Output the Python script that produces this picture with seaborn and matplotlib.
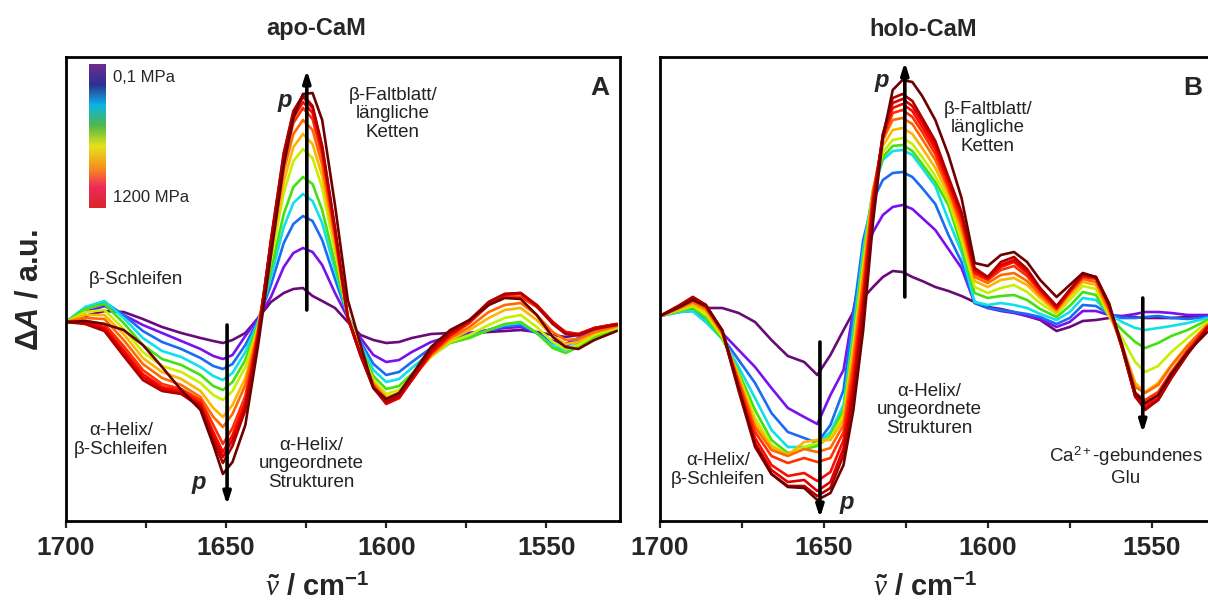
import numpy as np
import pandas as pd
import matplotlib
matplotlib.use("Agg")
import matplotlib.pyplot as plt
import seaborn as sns
from matplotlib.colors import LinearSegmentedColormap

# pressure steps (MPa) and line colours, low -> high pressure
pressures = ["0.1", "100", "200", "300", "400", "500", "600",
             "700", "800", "900", "1000", "1100", "1200"]
line_colors = ["#6a0a7a", "#7a10f0", "#1a6cf5", "#10e0e8", "#44e010", "#c8ee00",
               "#ffb400", "#ff6a00", "#ff3000", "#ff0a00", "#e00000", "#b00000", "#6e0000"]

# apo-CaM difference spectra (a.u.)
wn_apo = [1700, 1694, 1688, 1682, 1676, 1670, 1664, 1658, 1654, 1651, 1648, 1644, 1640,
          1636, 1632, 1629, 1626, 1623, 1620, 1616, 1612, 1608, 1604, 1600, 1596, 1592,
          1586, 1580, 1574, 1568, 1563, 1558, 1553, 1548, 1544, 1540, 1535, 1528]
apo = [
    [0, 6, 11, 10, 3, -5, -11, -16, -19, -21, -18, -11, 4, 20, 29, 33, 34, 26, 21, 14, 0, -13, -18, -21, -20, -16, -12, -11, -11, -10, -9, -8, -10, -13, -15, -13, -8, -4],
    [0, 10, 16, 7, -3, -11, -19, -27, -34, -37, -33, -14, 4, 25, 55, 69, 74, 70, 57, 29, 4, -16, -33, -40, -38, -30, -20, -14, -11, -8, -6, -5, -11, -19, -22, -16, -9, -5],
    [0, 14, 20, 7, -9, -20, -27, -36, -44, -47, -42, -23, 2, 37, 79, 98, 106, 101, 82, 43, 6, -20, -42, -53, -50, -40, -26, -16, -13, -8, -4, -3, -11, -21, -24, -18, -10, -5],
    [0, 15, 21, 4, -16, -29, -35, -45, -54, -58, -51, -30, 0, 45, 95, 119, 128, 121, 99, 52, 6, -23, -48, -60, -57, -46, -30, -19, -15, -8, -3, -1, -11, -24, -28, -21, -12, -6],
    [0, 13, 18, -1, -23, -37, -43, -53, -64, -68, -60, -38, -2, 52, 108, 135, 145, 138, 112, 59, 6, -26, -54, -67, -64, -52, -34, -21, -16, -8, -2, 0, -11, -26, -31, -25, -15, -8],
    [0, 10, 12, -7, -30, -44, -50, -61, -73, -78, -69, -45, -4, 62, 129, 161, 173, 164, 134, 71, 6, -28, -58, -72, -68, -55, -35, -20, -13, -3, 4, 7, -5, -20, -27, -23, -13, -6],
    [0, 7, 7, -12, -36, -50, -57, -69, -86, -95, -83, -56, -6, 68, 140, 175, 188, 178, 146, 77, 6, -30, -60, -75, -71, -56, -34, -18, -8, 4, 12, 14, 2, -14, -22, -20, -11, -5],
    [0, 4, 3, -18, -42, -56, -63, -75, -95, -105, -92, -63, -8, 73, 151, 188, 202, 192, 157, 83, 5, -31, -62, -77, -73, -57, -33, -16, -5, 10, 17, 19, 7, -10, -18, -17, -10, -4],
    [0, 1, -2, -24, -48, -62, -67, -78, -103, -122, -106, -74, -10, 77, 160, 199, 214, 203, 166, 88, 4, -32, -64, -79, -75, -58, -32, -14, -1, 17, 25, 25, 15, -1, -10, -12, -6, -2],
    [0, 0, -5, -28, -52, -65, -69, -81, -110, -130, -113, -80, -12, 80, 164, 204, 220, 209, 171, 91, 4, -33, -65, -81, -76, -58, -31, -13, 0, 19, 27, 28, 17, 0, -10, -12, -6, -2],
    [0, -1, -7, -31, -55, -67, -71, -83, -114, -135, -118, -84, -14, 81, 168, 209, 225, 214, 175, 93, 4, -34, -66, -82, -76, -58, -30, -12, 1, 20, 28, 29, 17, 0, -11, -13, -6, -2],
    [0, -2, -9, -34, -58, -69, -72, -85, -119, -141, -124, -88, -16, 82, 169, 211, 227, 216, 176, 94, 5, -33, -66, -80, -74, -56, -28, -10, 2, 20, 28, 29, 16, -2, -12, -13, -7, -3],
    [0, 1, -2, -8, -23, -45, -68, -88, -123, -152, -140, -103, -23, 67, 157, 204, 228, 229, 202, 117, 22, -23, -66, -77, -71, -53, -25, -8, 2, 17, 24, 23, 7, -15, -25, -27, -18, -9],
]

# holo-CaM difference spectra (a.u.)
wn_holo = [1700, 1694, 1690, 1686, 1681, 1676, 1671, 1666, 1661, 1656, 1652, 1648, 1644,
           1641, 1638, 1635, 1632, 1629, 1626, 1623, 1620, 1616, 1612, 1608, 1604, 1600,
           1596, 1592, 1588, 1584, 1579, 1575, 1571, 1567, 1563, 1559, 1555, 1552, 1548,
           1544, 1539, 1533, 1528]
holo = [
    [0, 6, 9, 8, 8, 3, -6, -24, -40, -46, -59, -39, -14, 4, 18, 29, 39, 45, 44, 39, 35, 29, 25, 20, 14, 9, 7, 4, 0, -4, -15, -11, -5, -4, -2, -1, -1, -2, -2, -2, -1, 0, 0],
    [0, 5, 6, -2, -17, -34, -51, -72, -92, -101, -108, -79, -54, 6, 54, 84, 101, 109, 111, 107, 98, 86, 67, 48, 13, 8, 5, 3, 0, -3, -11, -6, 5, 5, 1, 0, 2, 4, 4, 3, 1, 1, 1],
    [0, 4, 5, -6, -21, -44, -67, -97, -116, -122, -127, -109, -74, 1, 76, 116, 136, 143, 144, 139, 128, 112, 81, 54, 13, 8, 6, 4, 2, -1, -8, -2, 11, 10, 2, -2, -2, -1, 0, -2, -3, -1, 0],
    [0, 4, 5, -6, -23, -51, -82, -114, -131, -131, -128, -116, -89, -14, 66, 126, 156, 165, 166, 161, 148, 130, 96, 64, 14, 11, 13, 11, 8, 2, -4, 4, 18, 16, 2, -6, -12, -14, -12, -10, -7, -2, 0],
    [0, 5, 8, -2, -23, -56, -94, -124, -137, -133, -130, -120, -94, -22, 58, 126, 159, 170, 171, 165, 152, 134, 111, 70, 23, 18, 20, 21, 16, 7, -1, 10, 24, 21, 0, -14, -26, -32, -27, -20, -14, -4, -1],
    [0, 6, 10, 2, -21, -59, -102, -129, -139, -131, -127, -122, -99, -29, 51, 126, 164, 176, 178, 172, 159, 140, 116, 76, 29, 23, 28, 31, 24, 13, 2, 16, 30, 27, 0, -22, -46, -56, -50, -36, -22, -6, -2],
    [0, 7, 12, 5, -18, -61, -107, -131, -139, -126, -124, -124, -104, -36, 44, 126, 170, 186, 188, 182, 168, 148, 121, 83, 35, 29, 36, 38, 31, 18, 4, 20, 34, 31, 3, -29, -67, -76, -67, -49, -29, -9, -3],
    [0, 8, 14, 7, -17, -64, -111, -134, -140, -133, -136, -132, -109, -44, 36, 124, 176, 196, 198, 192, 177, 156, 126, 89, 39, 33, 41, 43, 35, 21, 6, 23, 37, 34, 6, -31, -71, -77, -69, -50, -30, -9, -3],
    [0, 9, 16, 9, -16, -67, -116, -140, -147, -142, -146, -142, -116, -54, 26, 120, 178, 203, 206, 199, 184, 162, 129, 94, 42, 36, 46, 50, 40, 24, 7, 24, 39, 37, 9, -32, -77, -84, -76, -56, -34, -10, -4],
    [0, 10, 18, 11, -15, -70, -122, -149, -160, -157, -165, -156, -124, -64, 18, 116, 180, 208, 212, 205, 189, 167, 133, 99, 44, 37, 49, 54, 43, 26, 8, 25, 40, 38, 11, -32, -80, -89, -82, -60, -36, -11, -4],
    [0, 10, 19, 11, -15, -73, -127, -154, -166, -164, -175, -166, -132, -72, 11, 112, 181, 213, 217, 210, 194, 171, 136, 101, 46, 38, 51, 56, 45, 27, 9, 26, 41, 39, 12, -32, -81, -92, -84, -62, -38, -12, -5],
    [0, 11, 19, 11, -15, -75, -131, -158, -170, -170, -180, -172, -139, -79, 4, 108, 182, 218, 222, 215, 198, 175, 139, 104, 48, 39, 54, 59, 47, 28, 10, 26, 42, 39, 13, -32, -80, -94, -84, -62, -38, -12, -5],
    [0, 9, 16, 10, -14, -72, -129, -158, -171, -172, -184, -177, -149, -94, -14, 94, 178, 226, 236, 234, 220, 196, 161, 118, 53, 50, 61, 64, 54, 36, 19, 31, 43, 39, 11, -29, -77, -87, -79, -58, -36, -16, -9],
]

bar_colors = ["#6b2d8f", "#2e3192", "#0ab4e6", "#52b848", "#e6e21a", "#f7941d", "#ee2a5a", "#d7262b"]


def to_long(wn, rows):
    frames = []
    for p, vals in zip(pressures, rows):
        frames.append(pd.DataFrame({"wn": wn, "dA": vals, "p": p}))
    return pd.concat(frames, ignore_index=True)


sns.set_style("white")
plt.rcParams["font.family"] = ["Liberation Sans", "DejaVu Sans"]
plt.rcParams["mathtext.fontset"] = "custom"
plt.rcParams["mathtext.rm"] = "Liberation Sans:bold"
plt.rcParams["mathtext.it"] = "Liberation Serif:italic"
plt.rcParams["mathtext.sf"] = "Liberation Sans:italic:bold"

W, H = 1208, 608
fig = plt.figure(figsize=(W / 100, H / 100), dpi=100)
axA = fig.add_axes([66 / W, 1 - 521 / H, 554 / W, 464 / H])
axB = fig.add_axes([660 / W, 1 - 521 / H, 567 / W, 464 / H])

panels = [(axA, wn_apo, apo, (-199, 265)), (axB, wn_holo, holo, (-205, 259))]
for ax, wn, rows, ylim in panels:
    df = to_long(wn, rows)
    sns.lineplot(data=df, x="wn", y="dA", hue="p", hue_order=pressures,
                 palette=line_colors, estimator=None, sort=False, legend=False,
                 lw=1.9, ax=ax)
    ax.set_xlim(1700, 1527)
    ax.set_ylim(*ylim)
    ax.set_yticks([])
    ax.set_xticks([1700, 1650, 1600, 1550])
    ax.set_xticks([1675, 1625, 1575], minor=True)
    ax.set_xlabel("")
    ax.set_ylabel("")
    ax.tick_params(axis="x", which="both", direction="out", bottom=True,
                   width=1.6, length=5, pad=6, labelsize=19)
    for lbl in ax.get_xticklabels():
        lbl.set_fontweight("bold")
    for s in ax.spines.values():
        s.set_linewidth(2.0)
        s.set_color("black")

arrow = dict(arrowstyle="-|>,head_length=0.7,head_width=0.22", lw=2.6, color="black",
             shrinkA=0, shrinkB=0)
txt = dict(fontsize=13.5, ha="center", va="center", linespacing=1.15, color="#222222")
pkw = dict(fontsize=17, fontweight="bold", fontstyle="italic", ha="center", va="center")

# panel A annotations
axA.annotate("", xy=(1624.8, 252), xytext=(1624.8, 12), arrowprops=arrow)
axA.text(1631.8, 222, "p", **pkw)
axA.text(1598, 208, "β-Faltblatt/\nlängliche\nKetten", **txt)
axA.annotate("", xy=(1649.7, -183), xytext=(1649.7, -3), arrowprops=arrow)
axA.text(1658.5, -160, "p", **pkw)
axA.text(1623.3, -142, "α-Helix/\nungeordnete\nStrukturen", **txt)
axA.text(1682.7, -118, "α-Helix/\nβ-Schleifen", **txt)
axA.text(1678.3, 42, "β-Schleifen", **txt)
axA.text(1533.3, 234, "A", fontsize=19, fontweight="bold", ha="center", va="center")

# pressure colour bar
cax = fig.add_axes([89 / W, 1 - 208 / H, 17 / W, 144 / H])
cmap = LinearSegmentedColormap.from_list("p", bar_colors)
cax.imshow(np.linspace(0, 1, 256)[:, None], aspect="auto", cmap=cmap)
cax.set_axis_off()
axA.text(1685.2, 245, "0,1 MPa", fontsize=12, ha="left", va="center")
axA.text(1685.2, 125, "1200 MPa", fontsize=12, ha="left", va="center")

# panel B annotations
axB.annotate("", xy=(1625.3, 254), xytext=(1625.3, 19), arrowprops=arrow)
axB.text(1632.3, 236, "p", **pkw)
axB.text(1600, 188, "β-Faltblatt/\nlängliche\nKetten", **txt)
axB.annotate("", xy=(1651.2, -202), xytext=(1651.2, -26), arrowprops=arrow)
axB.text(1643, -187, "p", **pkw)
axB.text(1617.7, -94, "α-Helix/\nungeordnete\nStrukturen", **txt)
axB.text(1682.3, -154, "α-Helix/\nβ-Schleifen", **txt)
axB.annotate("", xy=(1552.7, -117), xytext=(1552.7, 18), arrowprops=arrow)
axB.text(1557.8, -150, "Ca$^{\\mathregular{2+}}$-gebundenes\nGlu", **txt)
axB.text(1537.5, 228, "B", fontsize=19, fontweight="bold", ha="center", va="center")

# titles and axis labels
fig.text(316 / W, 1 - 28 / H, "apo-CaM", fontsize=17, fontweight="bold", ha="center", va="center")
fig.text(923 / W, 1 - 30 / H, "holo-CaM", fontsize=17, fontweight="bold", ha="center", va="center")
fig.text(30 / W, 1 - 290 / H, r"$\Delta\mathsf{A}$ / a.u.", fontsize=22, fontweight="bold",
         rotation=90, ha="center", va="center")
for xc in (317, 925):
    fig.text(xc / W, 1 - 588 / H, r"$\tilde{\nu}$ / cm$^{-1}$", fontsize=21, fontweight="bold",
             ha="center", va="center")

fig.savefig("out.png", dpi=100)
